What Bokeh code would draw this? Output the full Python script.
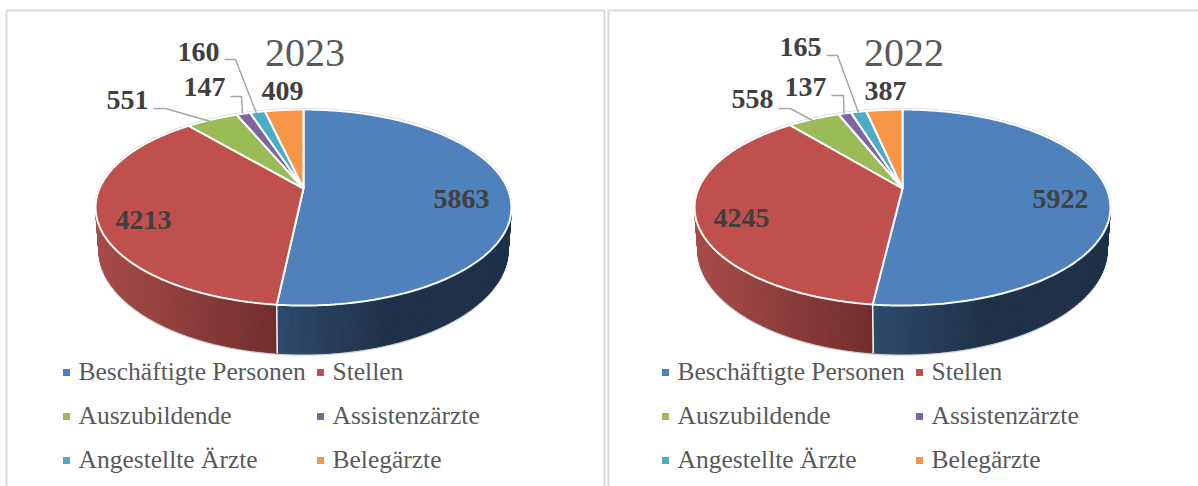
import numpy as np
from bokeh.plotting import figure
from bokeh.embed import file_html
from bokeh.resources import INLINE
from bokeh.core.properties import value

categories = ["Beschäftigte Personen", "Stellen", "Auszubildende", "Assistenzärzte", "Angestellte Ärzte", "Belegärzte"]
values_2023 = [5863, 4213, 551, 147, 160, 409]
values_2022 = [5922, 4245, 558, 137, 165, 387]
colors = ["#4f81bd", "#c0504d", "#9bbb59", "#8064a2", "#4bacc6", "#f79646"]
side_left = ["#2d4a6c", "#a84c49", "#7d9a45", "#64507f", "#3b8aa0", "#c87838"]
side_right = ["#1e3149", "#722d2b", "#55702f", "#453660", "#2a6578", "#a05a20"]
title_2023 = "2023"
title_2022 = "2022"

W, H = 1198, 486
FONT = value("Liberation Serif")
p = figure(width=W, height=H, x_range=(0, W), y_range=(H, 0), toolbar_location=None,
           output_backend="svg", min_border=0, outline_line_color=None)
p.axis.visible = False
p.grid.visible = False

# panel frames
p.multi_line(xs=[[6, 6], [604, 604], [608, 608], [6, 604], [608, 1198]],
             ys=[[10, H], [10, H], [10, H], [10, 10], [10, 10]],
             line_color="#d9d9d9", line_width=2)

PERSP, RX, RY, DEPTH, BOTTOM_SCALE = 0.194, 204.0, 94.3, 41.0, 0.985


def project(cx, cy, a, scale=1.0, dy=0.0):
    u, v = scale * np.sin(a), scale * np.cos(a)
    d = 1 + PERSP * v
    return cx + RX * u / d, cy - RY * v / d + dy / d


def mix(c1, c2, t):
    a = [int(c1[i:i + 2], 16) for i in (1, 3, 5)]
    b = [int(c2[i:i + 2], 16) for i in (1, 3, 5)]
    return "#%02x%02x%02x" % tuple(int(round(x + (y - x) * t)) for x, y in zip(a, b))


def pie(cx, cy, vals):
    vals = np.array(vals, float)
    edges = np.concatenate([[0], np.cumsum(vals) / vals.sum() * 2 * np.pi])
    # outline of the whole shape
    full = np.linspace(0, 2 * np.pi, 361)
    bx, by = project(cx, cy, full, BOTTOM_SCALE, DEPTH)
    p.line(bx + 0.0, by + 1.0, line_color="#cfcfcf", line_width=1.5)
    tx, ty = project(cx, cy, full)
    p.line(tx, ty - 0.8, line_color="#cfcfcf", line_width=1.5)
    # sides
    sx, sy, sc = [], [], []
    for i in range(len(vals)):
        ang = np.linspace(edges[i], edges[i + 1], max(3, int((edges[i + 1] - edges[i]) / 0.015)))
        x_t, y_t = project(cx, cy, ang)
        x_b, y_b = project(cx, cy, ang, BOTTOM_SCALE, DEPTH)
        lo, hi = x_t.min(), x_t.max()
        for j in range(len(ang) - 1):
            if np.cos(ang[j]) > 0.35 and np.cos(ang[j + 1]) > 0.35:
                continue
            t = (0.5 * (x_t[j] + x_t[j + 1]) - lo) / max(hi - lo, 1)
            if i == 0:
                t = min(t * 2.1, 1.0)
            sx.append([x_t[j], x_t[j + 1], x_b[j + 1], x_b[j]])
            sy.append([y_t[j], y_t[j + 1], y_b[j + 1], y_b[j]])
            sc.append(mix(side_left[i], side_right[i], t))
    p.patches(sx, sy, fill_color=sc, line_color=sc, line_width=1)
    # vertical seam between the two front sides
    sa = edges[1]
    x0, y0 = project(cx, cy, sa)
    x1, y1 = project(cx, cy, sa, BOTTOM_SCALE, DEPTH)
    p.line([x0, x1], [y0, y1], line_color="#ffffff", line_width=1.5)
    # top faces
    for i in range(len(vals)):
        ang = np.linspace(edges[i], edges[i + 1], 200)
        x_t, y_t = project(cx, cy, ang)
        p.patch(np.concatenate([[cx], x_t]), np.concatenate([[cy], y_t]),
                fill_color=colors[i], line_color="#ffffff", line_width=2)


def panel(dx, vals, title, lab_xy, leaders, legend_dx):
    pie(303 + dx, 188, vals)
    p.multi_line(xs=[[a[0] for a in l] for l in leaders], ys=[[a[1] for a in l] for l in leaders],
                 line_color="#a6a6a6", line_width=1.5)
    p.text(x=[lab_xy[i][0] for i in range(6)], y=[lab_xy[i][1] - 1.5 for i in range(6)],
           text=[str(v) for v in vals], text_font=FONT, text_font_style="bold",
           text_font_size="28px", text_color="#404040", text_align="center", text_baseline="middle")
    p.text(x=[304.5 + dx], y=[52], text=[title], text_font=FONT, text_font_size="40px",
           text_color="#595959", text_align="center", text_baseline="middle")
    lx = [66 + legend_dx, 320 + legend_dx] * 3
    ly = [372, 372, 416, 416, 460, 460]
    p.scatter(lx, ly, marker="square", size=7, fill_color=colors, line_color=None)
    p.text(x=[a + 12 for a in lx], y=[a - 1 for a in ly], text=categories, text_font=FONT, text_font_size="25.5px",
           text_color="#595959", text_align="left", text_baseline="middle")


panel(0, values_2023, title_2023,
      [(461, 200), (143, 221), (127, 101), (204, 88), (198, 53), (282, 92)],
      [[(153, 108), (165, 108), (210, 121)], [(230, 96), (241, 96), (242, 113)], [(224, 59), (235, 59), (256, 113)]], 0)
panel(599, values_2022, title_2022,
      [(1060, 200), (741, 219), (752, 100), (805, 88), (800, 48), (885, 92)],
      [[(778, 108), (790, 108), (812, 120)], [(831, 95), (843, 95), (843.5, 113)], [(826, 55), (837, 55), (858, 112)]], 599)

open("out.html", "w").write(file_html(p, INLINE))
